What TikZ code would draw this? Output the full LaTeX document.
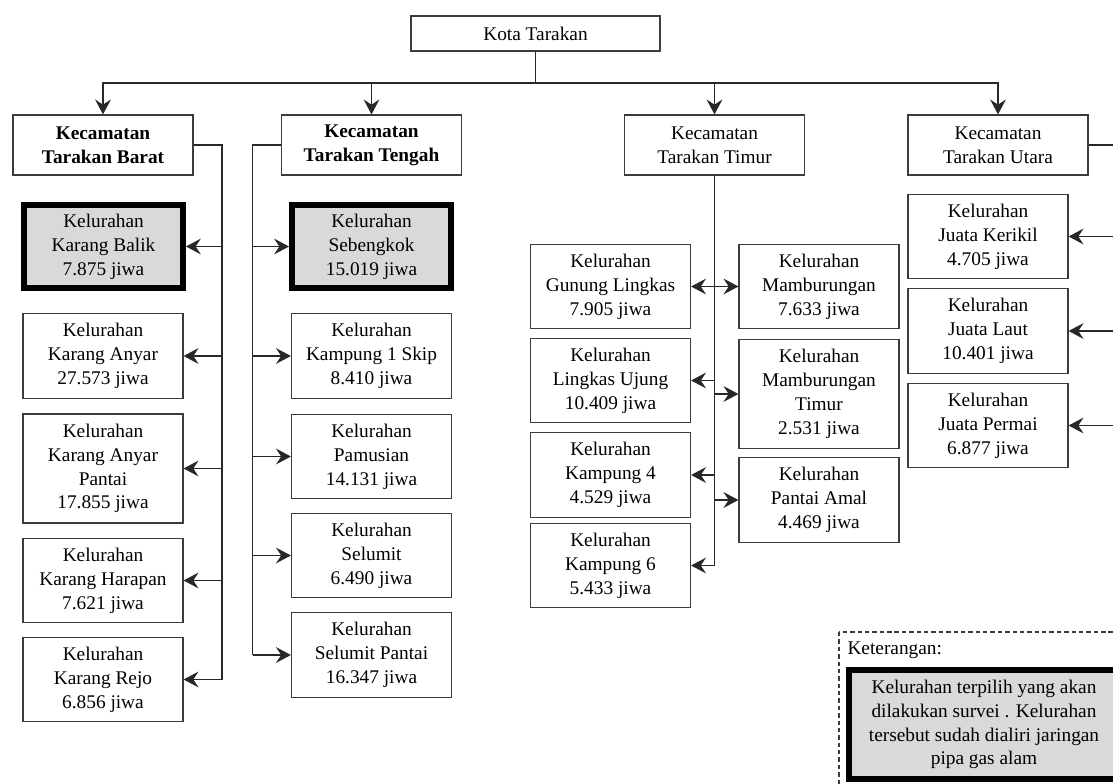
\documentclass[tikz,border=0pt]{standalone}
\usepackage{fontspec}
\setmainfont{Liberation Serif}
\usetikzlibrary{arrows.meta}
\definecolor{line_gray}{RGB}{40,40,40}
\definecolor{node_gray}{RGB}{60,60,60}
\definecolor{fill_gray}{RGB}{217,217,217}
\newcommand\txt{\fontsize{11}{13.6}\selectfont}

\begin{document}
\begin{tikzpicture}[x=0.02cm,y=-0.02cm,>={Stealth[length=8.5pt,width=9pt,inset=3pt]},line width=0.6pt]
    \tikzstyle{box}=[draw=node_gray, rectangle, line width=0.7pt, inner sep=0pt, align=center, text=black, font=\txt]
    \tikzstyle{kec}=[style=box, minimum width=3.6cm, minimum height=1.2cm]
    \tikzstyle{kel}=[style=box, minimum width=3.2cm, minimum height=1.69cm]
    \tikzstyle{kelx}=[style=kel, minimum height=2.18cm]
    \tikzstyle{pilih}=[style=box, fill=fill_gray, draw=black, line width=3.4pt, minimum width=3.18cm, minimum height=1.66cm]
    \tikzstyle{link}=[draw=line_gray, line width=0.6pt]

    \useasboundingbox (0,0) rectangle (1113,784);
    \clip (0,0) rectangle (1113,784);

    \node[box, minimum width=4.98cm, minimum height=0.7cm] (kota) at (535.5,33.5) {Kota Tarakan};

    \node[kec, font=\txt\bfseries] (barat)  at (103,145)   {Kecamatan\\Tarakan Barat};
    \node[kec, font=\txt\bfseries] (tengah) at (371.5,145) {Kecamatan\\Tarakan Tengah};
    \node[kec] (timur) at (714.5,145) {Kecamatan\\Tarakan Timur};
    \node[kec] (utara) at (998,145)   {Kecamatan\\Tarakan Utara};

    % tarakan barat
    \node[pilih] (balik)   at (103.5,246.5) {Kelurahan\\Karang Balik\\7.875 jiwa};
    \node[kel]   (anyar)   at (103,356)     {Kelurahan\\Karang Anyar\\27.573 jiwa};
    \node[kelx]  (anyarp)  at (103,468.5)   {Kelurahan\\Karang Anyar\\Pantai\\17.855 jiwa};
    \node[kel]   (harapan) at (103,580.5)   {Kelurahan\\Karang Harapan\\7.621 jiwa};
    \node[kel]   (rejo)    at (103,679.5)   {Kelurahan\\Karang Rejo\\6.856 jiwa};

    % tarakan tengah
    \node[pilih] (sebengkok) at (371.5,246.5) {Kelurahan\\Sebengkok\\15.019 jiwa};
    \node[kel]   (skip)      at (371.5,356)   {Kelurahan\\Kampung 1 Skip\\8.410 jiwa};
    \node[kel]   (pamusian)  at (371.5,456.5) {Kelurahan\\Pamusian\\14.131 jiwa};
    \node[kel]   (selumit)   at (371.5,555.5) {Kelurahan\\Selumit\\6.490 jiwa};
    \node[kel]   (selumitp)  at (371.5,655)   {Kelurahan\\Selumit Pantai\\16.347 jiwa};

    % tarakan timur
    \node[kel]  (gunung) at (610.5,286.5) {Kelurahan\\Gunung Lingkas\\7.905 jiwa};
    \node[kel]  (ujung)  at (610.5,380.5) {Kelurahan\\Lingkas Ujung\\10.409 jiwa};
    \node[kel]  (kamp4)  at (610.5,475)   {Kelurahan\\Kampung 4\\4.529 jiwa};
    \node[kel]  (kamp6)  at (610.5,565.5) {Kelurahan\\Kampung 6\\5.433 jiwa};
    \node[kel]  (mamb)   at (819,286.5)   {Kelurahan\\Mamburungan\\7.633 jiwa};
    \node[kelx] (mambt)  at (819,394)     {Kelurahan\\Mamburungan\\Timur\\2.531 jiwa};
    \node[kel]  (amal)   at (819,500)     {Kelurahan\\Pantai Amal\\4.469 jiwa};

    % tarakan utara
    \node[kel] (kerikil) at (988,236.5) {Kelurahan\\Juata Kerikil\\4.705 jiwa};
    \node[kel] (laut)    at (988,331)   {Kelurahan\\Juata Laut\\10.401 jiwa};
    \node[kel] (permai)  at (988,425.5) {Kelurahan\\Juata Permai\\6.877 jiwa};

    \coordinate (bus) at (535.5,83);
    \coordinate (bx) at (222,0);
    \coordinate (tx) at (252.5,0);
    \coordinate (ux) at (1125,0);

    \draw[link] (kota.south) -- (bus);
    \foreach \k in {barat,tengah,timur,utara}
        \draw[link,->] (bus) -| (\k.north);

    \draw[link] (barat.east) -| (rejo.east -| bx);
    \foreach \n in {balik,anyar,anyarp,harapan,rejo}
        \draw[link,->] (\n.east -| bx) -- (\n.east);

    \draw[link] (tengah.west) -| (selumitp.west -| tx);
    \foreach \n in {sebengkok,skip,pamusian,selumit,selumitp}
        \draw[link,->] (\n.west -| tx) -- (\n.west);

    \draw[link] (timur.south) -- (kamp6.east -| timur.south);
    \foreach \n in {gunung,ujung,kamp4,kamp6}
        \draw[link,->] (\n.east -| timur.south) -- (\n.east);
    \foreach \n in {mamb,mambt,amal}
        \draw[link,->] (\n.west -| timur.south) -- (\n.west);

    \draw[link] (utara.east) -| (permai.east -| ux);
    \foreach \n in {kerikil,laut,permai}
        \draw[link,->] (\n.east -| ux) -- (\n.east);

    % keterangan
    \draw[draw=node_gray, line width=0.6pt, dash pattern=on 2.5pt off 1.7pt] (839,632) rectangle (1140,800);
    \node[anchor=west, font=\txt, inner sep=0pt] (ket) at (847,650) {Keterangan:};
    \node[pilih, minimum width=5.4cm, minimum height=2.18cm] (legend) at (984,724.5)
        {Kelurahan terpilih yang akan\\dilakukan survei . Kelurahan\\tersebut sudah dialiri jaringan\\pipa gas alam};
\end{tikzpicture}
\end{document}
